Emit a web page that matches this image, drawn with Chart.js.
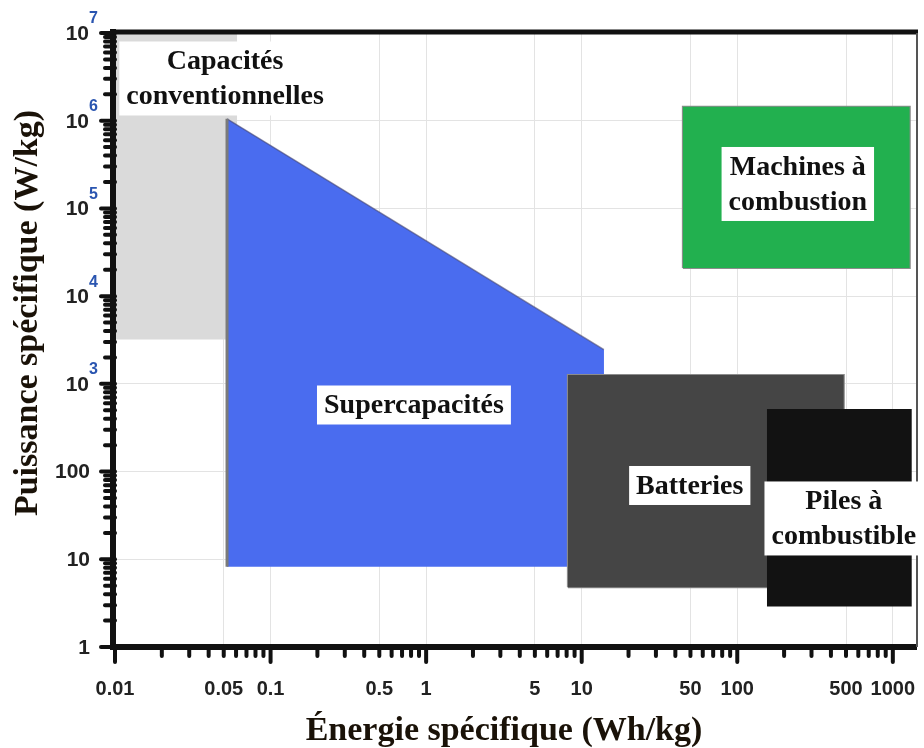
<!DOCTYPE html>
<html lang="fr">
<head>
<meta charset="utf-8">
<title>Diagramme de Ragone</title>
<script src="https://cdn.jsdelivr.net/npm/chart.js@4.4.1/dist/chart.umd.min.js"></script>
<style>
  html, body { margin: 0; padding: 0; background: #fff; }
</style>
</head>
<body>
<canvas id="ragone" width="924" height="748"></canvas>
<script>
// axes : énergie (Wh/kg) en x, puissance (W/kg) en y
const X_MIN = 0.01, X_MAX = 1430;
const Y_MIN = 1, Y_MAX = 1e7;
const xTickValues = [0.01, 0.05, 0.1, 0.5, 1, 5, 10, 50, 100, 500, 1000];
const xTickLabels = ["0.01", "0.05", "0.1", "0.5", "1", "5", "10", "50", "100", "500", "1000"];
const yTickValues = [1, 10, 100, 1e3, 1e4, 1e5, 1e6, 1e7];
const yTickLabels = ["1", "10", "100", "10^3", "10^4", "10^5", "10^6", "10^7"];

// zones : [min, max]
const capaEnergy = [0.01, 0.061];
const capaPower = [3200, 1e7];
const superEnergy = [0.0525, 13.9];
const superTopPower = [1.05e6, 2450]; // bord supérieur (gauche -> droite)
const superMinPower = 8.2;
const battEnergy = [8.15, 484];
const battPower = [4.8, 1260];
const pileEnergy = [155, 1325];
const pilePower = [2.9, 517];
const moteurEnergy = [44.7, 1285];
const moteurPower = [2.1e4, 1.44e6];

// étiquettes des zones
const zoneNames = [["Capacités", "conventionnelles"], ["Supercapacités"], ["Machines à", "combustion"], ["Batteries"], ["Piles à", "combustible"]];
const zoneLabelEnergy = [0.051, 0.835, 245, 49.5, 484];
const zoneLabelPower = [3.03e6, 574, 1.9e5, 69.4, 29.2];

const SERIF = '"Liberation Serif", "Times New Roman", serif';
const SANS = '"Liberation Sans", Arial, sans-serif';

function findTick(list, value) {
  return list.findIndex((v) => Math.abs(v - value) < v * 1e-6);
}

function rectTop(energy, power) {
  return [{ x: energy[0], y: power[1] }, { x: energy[1], y: power[1] }];
}

function rectOutline(energy, power) {
  return [
    { x: energy[0], y: power[0] }, { x: energy[0], y: power[1] },
    { x: energy[1], y: power[1] }, { x: energy[1], y: power[0] },
    { x: energy[0], y: power[0] },
  ];
}

function zone(data, color, bottom, order) {
  return {
    data, order,
    backgroundColor: color,
    borderColor: "transparent",
    borderWidth: 0,
    fill: { value: bottom },
    pointRadius: 0,
  };
}

function outline(data, color, width, order) {
  return { data, order, borderColor: color, borderWidth: width, fill: false, pointRadius: 0 };
}

// cadre, graduations, libellés et étiquettes
const decorPlugin = {
  id: "decor",
  afterDraw(chart) {
    const { ctx, chartArea: a, scales: { x, y } } = chart;
    ctx.save();

    // graduations
    ctx.strokeStyle = "#111";
    ctx.lineCap = "round";
    ctx.lineWidth = 4;
    x.ticks.forEach((t) => {
      const e = Math.floor(Math.log10(t.value) + 1e-9);
      const s = t.value / Math.pow(10, e);
      if (Math.abs(s - Math.round(s)) > 1e-6) return;
      const px = x.getPixelForValue(t.value);
      const len = Math.round(s) === 1 ? 15 : 9;
      ctx.beginPath();
      ctx.moveTo(px, a.bottom);
      ctx.lineTo(px, a.bottom + len);
      ctx.stroke();
    });
    y.ticks.forEach((t) => {
      const e = Math.floor(Math.log10(t.value) + 1e-9);
      const s = t.value / Math.pow(10, e);
      if (Math.abs(s - Math.round(s)) > 1e-6) return;
      const py = y.getPixelForValue(t.value);
      const len = Math.round(s) === 1 ? 14 : 10;
      ctx.beginPath();
      ctx.moveTo(a.left, py);
      ctx.lineTo(a.left - len, py);
      ctx.stroke();
    });

    // cadre
    ctx.lineCap = "butt";
    ctx.lineWidth = 6;
    ctx.beginPath();
    ctx.moveTo(a.left - 2, a.top - 4);
    ctx.lineTo(a.left - 2, a.bottom + 3);
    ctx.moveTo(a.left - 5, a.bottom);
    ctx.lineTo(a.right, a.bottom);
    ctx.stroke();
    ctx.lineWidth = 5;
    ctx.beginPath();
    ctx.moveTo(a.left - 5, a.top - 1);
    ctx.lineTo(a.right + 1, a.top - 1);
    ctx.stroke();
    ctx.strokeStyle = "#555";
    ctx.lineWidth = 2;
    ctx.beginPath();
    ctx.moveTo(a.right, a.top);
    ctx.lineTo(a.right, a.bottom);
    ctx.stroke();

    // libellés de l'axe y (puissances de 10)
    ctx.textBaseline = "middle";
    yTickValues.forEach((v, i) => {
      const py = y.getPixelForValue(v);
      const [base, exp] = yTickLabels[i].split("^");
      ctx.fillStyle = "#222";
      ctx.font = "bold 21px " + SANS;
      if (exp) {
        ctx.textAlign = "right";
        ctx.fillText(base, 89, py + 1);
        ctx.textAlign = "left";
        ctx.fillStyle = "#2a55b0";
        ctx.font = "bold 16px " + SANS;
        ctx.fillText(exp, 89, py - 14);
      } else {
        ctx.textAlign = "right";
        ctx.fillText(base, 90, py + 1);
      }
    });

    // titres des axes
    ctx.fillStyle = "#1a1208";
    ctx.font = "bold 34px " + SERIF;
    ctx.textAlign = "center";
    ctx.fillText("Énergie spécifique (Wh/kg)", 504, 731);
    ctx.save();
    ctx.translate(28, 313);
    ctx.rotate(-Math.PI / 2);
    ctx.fillText("Puissance spécifique (W/kg)", 0, 0);
    ctx.restore();

    // étiquettes des zones
    ctx.font = "bold 28px " + SERIF;
    const lineH = 35;
    zoneNames.forEach((lines, i) => {
      const cx = x.getPixelForValue(zoneLabelEnergy[i]);
      const cy = y.getPixelForValue(zoneLabelPower[i]);
      const w = Math.max(...lines.map((l) => ctx.measureText(l).width)) + 14;
      const h = lines.length * lineH + 4;
      ctx.fillStyle = "#fff";
      ctx.fillRect(cx - w / 2, cy - h / 2, w, h);
      ctx.fillStyle = "#111";
      lines.forEach((l, j) => {
        ctx.fillText(l, cx, cy + (j - (lines.length - 1) / 2) * lineH + 1);
      });
    });

    ctx.restore();
  },
};

new Chart(document.getElementById("ragone"), {
  type: "line",
  data: {
    datasets: [
      zone(rectTop(capaEnergy, capaPower), "#dadada", capaPower[0], 9),
      {
        data: [{ x: superEnergy[0], y: superTopPower[0] }, { x: superEnergy[1], y: superTopPower[1] }],
        order: 8,
        backgroundColor: "#4a6cef",
        borderColor: "rgba(70,70,110,0.6)",
        borderWidth: 1.5,
        fill: { value: superMinPower },
        pointRadius: 0,
      },
      outline([{ x: superEnergy[0], y: superMinPower }, { x: superEnergy[0], y: superTopPower[0] }], "#7a7a7a", 3, 7),
      outline(rectOutline(battEnergy, battPower), "#8c8c8c", 2, 6),
      zone(rectTop(battEnergy, battPower), "#454545", battPower[0], 5),
      zone(rectTop(pileEnergy, pilePower), "#121212", pilePower[0], 4),
      outline(rectOutline(moteurEnergy, moteurPower), "#8c8c8c", 2, 3),
      zone(rectTop(moteurEnergy, moteurPower), "#22b04f", moteurPower[0], 2),
    ],
  },
  options: {
    responsive: false,
    animation: false,
    layout: { padding: { top: 33, right: 7, left: 0, bottom: 0 } },
    plugins: { legend: { display: false }, tooltip: { enabled: false } },
    scales: {
      x: {
        type: "logarithmic",
        min: X_MIN,
        max: X_MAX,
        afterFit: (s) => {
          s.height = 101;
          s.paddingLeft = 0;
          s.paddingRight = 0;
        },
        border: { display: false },
        grid: {
          drawTicks: false,
          lineWidth: 1,
          color: (c) => (c.tick && findTick(xTickValues, c.tick.value) >= 0 ? "#e3e3e3" : "transparent"),
        },
        ticks: {
          autoSkip: false,
          maxRotation: 0,
          minRotation: 0,
          padding: 30,
          color: "#222",
          font: { family: SANS, size: 20, weight: "bold" },
          callback: (v) => {
            const i = findTick(xTickValues, v);
            return i >= 0 ? xTickLabels[i] : "";
          },
        },
      },
      y: {
        type: "logarithmic",
        min: Y_MIN,
        max: Y_MAX,
        afterFit: (s) => { s.width = 115; },
        border: { display: false },
        grid: {
          drawTicks: false,
          lineWidth: 1,
          color: (c) => (c.tick && findTick(yTickValues, c.tick.value) >= 0 ? "#e3e3e3" : "transparent"),
        },
        ticks: { display: false, autoSkip: false },
      },
    },
  },
  plugins: [decorPlugin],
});
</script>
</body>
</html>
